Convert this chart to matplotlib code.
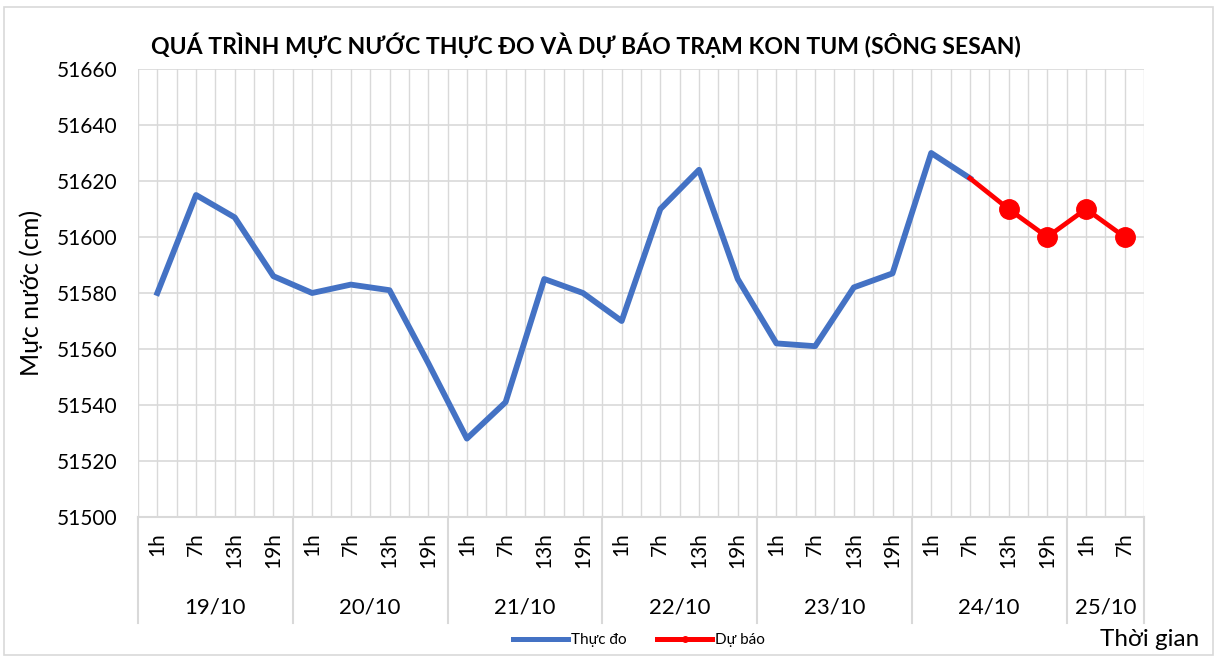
import matplotlib
matplotlib.use("Agg")
import matplotlib.pyplot as plt
from matplotlib.lines import Line2D
from matplotlib.patches import Rectangle
from matplotlib import transforms as mtransforms

plt.rcParams['font.family'] = ['Lato', 'DejaVu Sans']

# data
days = ['19/10', '20/10', '21/10', '22/10', '23/10', '24/10', '25/10']
hours_per_day = [4, 4, 4, 4, 4, 4, 2]
hour_names = ['1h', '7h', '13h', '19h']

observed = [51580, 51615, 51607, 51586,
            51580, 51583, 51581, 51555,
            51528, 51541, 51585, 51580,
            51570, 51610, 51624, 51585,
            51562, 51561, 51582, 51587,
            51630, 51621]
forecast = [51621, 51610, 51600, 51610, 51600]

hour_labels = []
for n in hours_per_day:
    hour_labels += hour_names[:n]
n_cat = len(hour_labels)

blue = '#4472C4'
red = '#FF0000'
grid_c = '#D9D9D9'

W, H = 1217, 662
fig = plt.figure(figsize=(W / 100, H / 100), dpi=100)
left, right, top, bottom = 138, 1144, 69, 517
ax = fig.add_axes([left / W, 1 - bottom / H, (right - left) / W, (bottom - top) / H])

# outer chart border
fig.patches.append(Rectangle((4 / W, 1 - 655 / H), 1209 / W, 648 / H,
                             transform=fig.transFigure, fill=False,
                             edgecolor='#D9D9D9', linewidth=1.2))

x_obs = list(range(len(observed)))
x_fc = list(range(len(observed) - 1, len(observed) - 1 + len(forecast)))

ax.plot(x_obs, observed, color=blue, lw=4.2, zorder=3)
ax.plot(x_fc, forecast, color=red, lw=3.4, zorder=4)
ax.plot(x_fc[1:], forecast[1:], 'o', color=red, markersize=14, zorder=5)

ax.set_xlim(-0.5, n_cat - 0.5)
ax.set_ylim(51500, 51660)
ax.set_yticks(range(51500, 51661, 20))
ax.tick_params(axis='y', length=0, pad=15, labelsize=15)
ax.set_xticks([])
ax.grid(axis='y', color=grid_c, lw=1.2)
for v in [i * 0.5 - 0.5 for i in range(2 * n_cat + 1)]:
    ax.axvline(v, color=grid_c, lw=1.0, zorder=0)
for s in ['top', 'right', 'left']:
    ax.spines[s].set_visible(False)
ax.spines['bottom'].set_color(grid_c)
ax.spines['bottom'].set_linewidth(1.5)

ax.set_ylabel('Mực nước (cm)', fontsize=18, labelpad=10)

# two-level category axis
xt = ax.get_xaxis_transform()
hour_tr = mtransforms.offset_copy(xt, fig=fig, y=-15, units='dots')
for i, lab in enumerate(hour_labels):
    ax.text(i, 0, lab, transform=hour_tr, rotation=90, ha='center', va='top',
            fontsize=15, color='black')

date_tr = mtransforms.offset_copy(xt, fig=fig, y=-91, units='dots')
sep_len = (623 - bottom) / (bottom - top)
start = 0
bounds = [-0.5]
for d, n in zip(days, hours_per_day):
    mid = start + (n - 1) / 2
    ax.text(mid, 0, d, transform=date_tr, ha='center', va='center', fontsize=16)
    start += n
    bounds.append(start - 0.5)
for b in bounds:
    ax.plot([b, b], [0, -sep_len], transform=xt, color=grid_c, lw=1.5, clip_on=False)

fig.text(586 / W, 1 - 45 / H,
         'QUÁ TRÌNH MỰC NƯỚC THỰC ĐO VÀ DỰ BÁO TRẠM KON TUM (SÔNG SESAN)',
         ha='center', va='center', fontsize=16.6, fontweight='bold')
fig.text(1150 / W, 1 - 640 / H, 'Thời gian', ha='center', va='center', fontsize=17.5)

handles = [Line2D([], [], color=blue, lw=3.6),
           Line2D([], [], color=red, lw=3.6, marker='o', markersize=4)]
fig.legend(handles, ['Thực đo', 'Dự báo'], loc='center', ncol=2,
           bbox_to_anchor=(639 / W, 1 - 640 / H), frameon=False, fontsize=11,
           handlelength=3.6, handletextpad=0.2, columnspacing=2.0)

fig.savefig('out.png', dpi=100)
